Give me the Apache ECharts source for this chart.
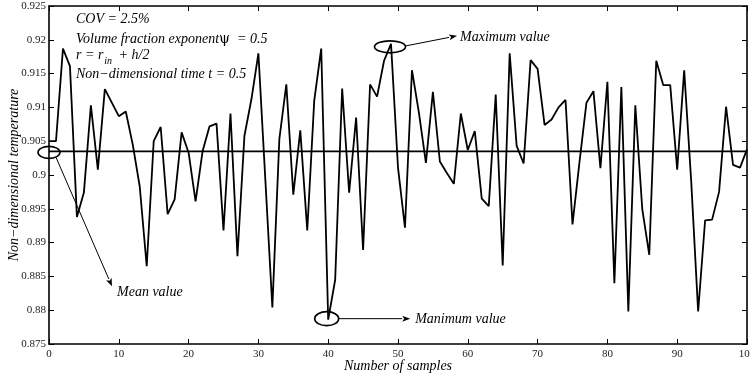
<!DOCTYPE html>
<html><head><meta charset="utf-8">
<script src="https://cdn.jsdelivr.net/npm/echarts@6/dist/echarts.min.js"></script>
<style>html,body{margin:0;padding:0;background:#fff}#c{width:750px;height:378px}</style>
</head><body><div id="c"></div>
<script>
const sampleNumbers = [0,1,2,3,4,5,6,7,8,9,10,11,12,13,14,15,16,17,18,19,20,21,22,23,24,25,26,27,28,29,30,31,32,33,34,35,36,37,38,39,40,41,42,43,44,45,46,47,48,49,50,51,52,53,54,55,56,57,58,59,60,61,62,63,64,65,66,67,68,69,70,71,72,73,74,75,76,77,78,79,80,81,82,83,84,85,86,87,88,89,90,91,92,93,94,95,96,97,98,99,100];
const temperature = [
  0.9050,0.9050,0.9187,0.9161,0.8938,0.8974,0.9103,0.9008,0.9127,0.9107,
  0.9087,0.9094,0.9045,0.8983,0.8865,0.9050,0.9071,0.8942,0.8964,0.9063,
  0.9033,0.8961,0.9035,0.9072,0.9076,0.8918,0.9091,0.8880,0.9058,0.9112,
  0.9180,0.8992,0.8804,0.9053,0.9134,0.8971,0.9066,0.8918,0.9110,0.9187,
  0.8786,0.8845,0.9128,0.8974,0.9085,0.8889,0.9134,0.9116,0.9169,0.9194,
  0.9011,0.8922,0.9155,0.9092,0.9018,0.9123,0.9020,0.9003,0.8987,0.9091,
  0.9037,0.9065,0.8965,0.8954,0.9119,0.8866,0.9180,0.9043,0.9017,0.9170,
  0.9157,0.9074,0.9082,0.9100,0.9111,0.8927,0.9019,0.9107,0.9124,0.9010,
  0.9138,0.8840,0.9130,0.8798,0.9103,0.8949,0.8882,0.9169,0.9133,0.9133,
  0.9008,0.9155,0.8992,0.8798,0.8933,0.8934,0.8975,0.9101,0.9015,0.9011,
  0.9038];
const meanValue = 0.9035;
const maxIndex = 49;
const minIndex = 40;
const xRange = [0, 100, 10];
const yRange = [0.875, 0.925, 0.005];
const annotationLines = ['COV = 2.5%', 'Volume fraction exponent', 'Non\u2212dimensional time t = 0.5'];

const FONT = 'Liberation Serif';
const chart = echarts.init(document.getElementById('c'), null, {renderer: 'canvas'});
const fmtY = v => String(+v.toFixed(3));

const axisLine = {show: true, onZero: false, lineStyle: {color: '#000', width: 1.6}};
const axisTick = {show: true, inside: true, length: 5, lineStyle: {color: '#000', width: 1}};

chart.setOption({
  animation: false,
  backgroundColor: '#fff',
  grid: {left: 49, right: 3, top: 6, bottom: 34, containLabel: false, outerBoundsMode: 'none'},
  xAxis: [{
    type: 'value', min: xRange[0], max: xRange[1], interval: xRange[2], position: 'bottom',
    axisLine, axisTick, splitLine: {show: false},
    axisLabel: {color: '#222', fontFamily: FONT, fontSize: 11, margin: 5},
    name: 'Number of samples', nameLocation: 'middle', nameGap: 15, nameMoveOverlap: false,
    nameTextStyle: {fontFamily: FONT, fontStyle: 'italic', fontSize: 14, color: '#000'}
  }, {
    type: 'value', min: xRange[0], max: xRange[1], interval: xRange[2], position: 'top',
    axisLine, axisTick, splitLine: {show: false}, axisLabel: {show: false}
  }],
  yAxis: [{
    type: 'value', min: yRange[0], max: yRange[1], interval: yRange[2], position: 'left',
    axisLine, axisTick, splitLine: {show: false},
    axisLabel: {color: '#222', fontFamily: FONT, fontSize: 11, margin: 3, formatter: fmtY},
    name: 'Non\u2212dimensional temperature', nameLocation: 'middle', nameGap: 28, nameMoveOverlap: false,
    nameTextStyle: {fontFamily: FONT, fontStyle: 'italic', fontSize: 14, color: '#000'}
  }, {
    type: 'value', min: yRange[0], max: yRange[1], interval: yRange[2], position: 'right',
    axisLine, axisTick, splitLine: {show: false}, axisLabel: {show: false}
  }],
  series: [{
    type: 'line',
    data: sampleNumbers.map((x, i) => [x, temperature[i]]),
    symbol: 'none',
    lineStyle: {color: '#000', width: 1.8}
  }, {
    type: 'line',
    data: [[xRange[0], meanValue], [xRange[1], meanValue]],
    symbol: 'none',
    lineStyle: {color: '#000', width: 1.6}
  }]
});

function arrow(x1, y1, x2, y2) {
  const a = Math.atan2(y2 - y1, x2 - x1), L = 8, W = 3;
  const bx = x2 - L * Math.cos(a), by = y2 - L * Math.sin(a);
  const px = -Math.sin(a) * W, py = Math.cos(a) * W;
  return [
    {type: 'line', shape: {x1, y1, x2: bx, y2: by}, style: {stroke: '#000', lineWidth: 1}},
    {type: 'polygon', shape: {points: [[x2, y2], [bx + px, by + py], [bx + 2 * Math.cos(a), by + 2 * Math.sin(a)], [bx - px, by - py]]}, style: {fill: '#000'}}
  ];
}
function ellipse(cx, cy, rx, ry) {
  return {type: 'ellipse', shape: {cx, cy, rx, ry}, style: {fill: null, stroke: '#000', lineWidth: 1.6}};
}
function label(x, y, text) {
  return {type: 'text', x, y, style: {text, fill: '#000', font: 'italic 14px "' + FONT + '"', verticalAlign: 'middle', align: 'left'}};
}

const toPx = (x, y) => chart.convertToPixel({xAxisIndex: 0, yAxisIndex: 0}, [x, y]);
const pMean = toPx(sampleNumbers[0], meanValue);
const pMax = toPx(sampleNumbers[maxIndex], temperature[maxIndex]);
const pMin = toPx(sampleNumbers[minIndex], temperature[minIndex]);
const g0 = toPx(xRange[0], yRange[1]);
const tx = g0[0] + 27;

let els = [];
els.push(label(tx, g0[1] + 13, annotationLines[0]));
els.push({type: 'text', x: tx, y: g0[1] + 33, style: {
  text: '{i|' + annotationLines[1] + '}{g|\u03c8}{i|  = 0.5}',
  verticalAlign: 'middle', rich: {
    i: {fontFamily: FONT, fontStyle: 'italic', fontSize: 14, fill: '#000'},
    g: {fontFamily: 'DejaVu Serif', fontSize: 14, fill: '#000'}
  }}});
els.push({type: 'text', x: tx, y: g0[1] + 49, style: {
  text: '{i|r = r}{s|in}{i| + h/2}', verticalAlign: 'middle', rich: {
    i: {fontFamily: FONT, fontStyle: 'italic', fontSize: 14, fill: '#000', lineHeight: 16},
    s: {fontFamily: FONT, fontStyle: 'italic', fontSize: 10, fill: '#000', padding: [12, 3, 0, 1], lineHeight: 16}
  }}});
els.push(label(tx, g0[1] + 68, annotationLines[2]));

els.push(ellipse(pMean[0], pMean[1] + 1, 11, 6));
els = els.concat(arrow(pMean[0] + 7, pMean[1] + 6, pMean[0] + 63, pMean[1] + 135));
els.push(label(pMean[0] + 68, pMean[1] + 141, 'Mean value'));

els.push(ellipse(pMax[0] - 1, pMax[1] + 3, 15.5, 6));
els = els.concat(arrow(pMax[0] + 15, pMax[1] + 2, pMax[0] + 66, pMax[1] - 8));
els.push(label(pMax[0] + 69, pMax[1] - 7, 'Maximum value'));

els.push(ellipse(pMin[0] - 1.5, pMin[1] - 1, 12, 7));
els = els.concat(arrow(pMin[0] + 11, pMin[1] - 1, pMin[0] + 82, pMin[1] - 1));
els.push(label(pMin[0] + 87, pMin[1], 'Manimum value'));

chart.setOption({graphic: {elements: els}});
</script>
</body></html>
